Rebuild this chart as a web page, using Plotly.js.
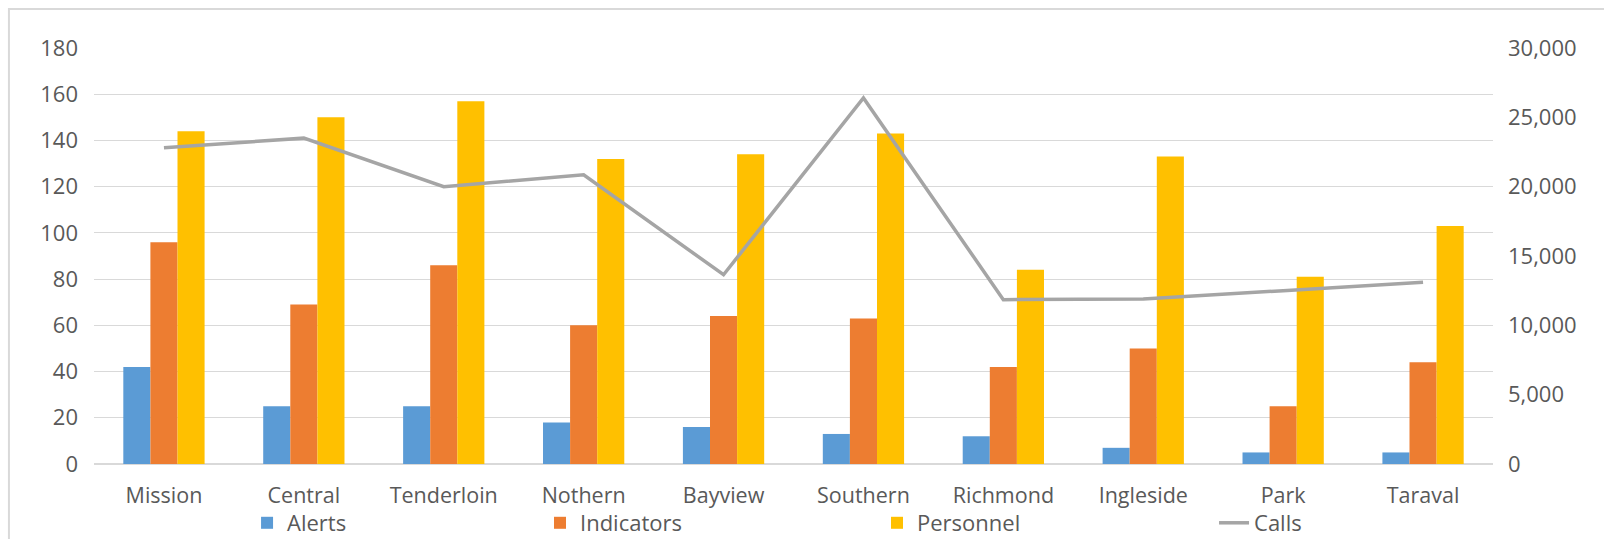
<!DOCTYPE html>
<html>
<head>
<meta charset="utf-8">
<script src="https://cdn.plot.ly/plotly-3.0.1.min.js"></script>
<style>html,body{margin:0;padding:0;background:#fff;}#chart{width:1604px;height:539px;}</style>
</head>
<body>
<div id="chart"></div>
<script>
const districts = ["Mission","Central","Tenderloin","Nothern","Bayview","Southern","Richmond","Ingleside","Park","Taraval"];
const alerts = [42, 25, 25, 18, 16, 13, 12, 7, 5, 5];
const indicators = [96, 69, 86, 60, 64, 63, 42, 50, 25, 44];
const personnel = [144, 150, 157, 132, 134, 143, 84, 133, 81, 103];
const calls = [22800, 23500, 20000, 20850, 13650, 26400, 11850, 11900, 12500, 13100];

const txt = "#595959";
const fontFam = "Open Sans, Noto Sans, sans-serif";

const traces = [
  {type:"bar", name:"Alerts", x:districts, y:alerts, marker:{color:"#5B9BD5"}, legend:"legend"},
  {type:"bar", name:"Indicators", x:districts, y:indicators, marker:{color:"#ED7D31"}, legend:"legend2"},
  {type:"bar", name:"Personnel", x:districts, y:personnel, marker:{color:"#FFC000"}, legend:"legend3"},
  {type:"scatter", mode:"lines", name:"Calls", x:districts, y:calls, yaxis:"y2",
   line:{color:"#A5A5A5", width:3.5}, legend:"legend4"}
];

function leg(x){
  return {orientation:"h", x:x, xanchor:"left", y:-0.1418, yanchor:"middle",
          font:{family:fontFam, size:22, color:txt}, bgcolor:"rgba(0,0,0,0)"};
}

const layout = {
  width:1604, height:539,
  paper_bgcolor:"#ffffff", plot_bgcolor:"#ffffff",
  margin:{l:94, r:111, t:48, b:75, autoexpand:false},
  barmode:"group", bargap:0.419, bargroupgap:0,
  font:{family:fontFam, color:txt, size:22},
  xaxis:{type:"category", showgrid:false, showline:false, ticks:"", zeroline:false,
         tickfont:{family:fontFam, size:21.5, color:txt}, ticklabelstandoff:16},
  yaxis:{range:[0,180], dtick:20, showgrid:true, gridcolor:"#D9D9D9", gridwidth:1.2,
         zeroline:true, zerolinecolor:"#D9D9D9", zerolinewidth:1.2, showline:false, ticks:"",
         tickfont:{family:fontFam, size:22, color:txt}, ticklabelstandoff:15},
  yaxis2:{overlaying:"y", side:"right", range:[0,30000], dtick:5000, tickformat:",",
          showgrid:false, zeroline:false, showline:false, ticks:"",
          tickfont:{family:fontFam, size:22, color:txt}, ticklabelstandoff:14},
  showlegend:true,
  legend:leg(0.1094),
  legend2:leg(0.3188),
  legend3:leg(0.5597),
  legend4:leg(0.8006),
  shapes:[{type:"rect", xref:"paper", yref:"paper", x0:-0.0608, x1:1.12, y0:-0.3, y1:1.0938,
           line:{color:"#D9D9D9", width:2}, fillcolor:"rgba(0,0,0,0)", layer:"below"}]
};

Plotly.newPlot("chart", traces, layout, {displayModeBar:false, staticPlot:true});
</script>
</body>
</html>
